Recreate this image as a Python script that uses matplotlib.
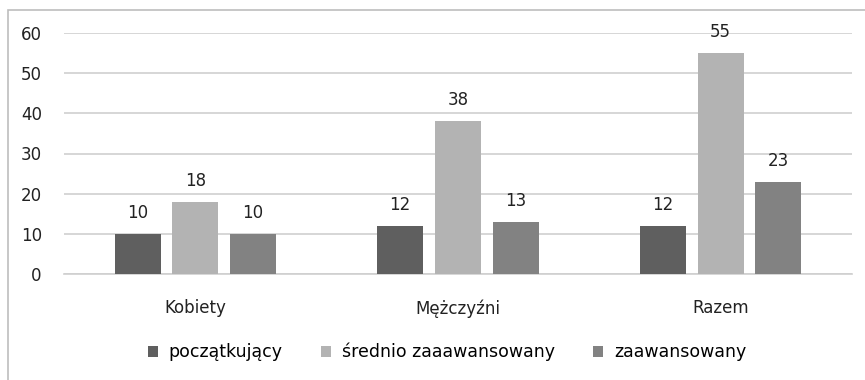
import matplotlib.pyplot as plt
import numpy as np
from matplotlib.patches import Rectangle

plt.rcParams['font.family'] = ['DejaVu Sans']

# Data
categories = ['Kobiety', 'Mężczyźni', 'Razem']
series_names = ['początkujący', 'średnio zaaawansowany', 'zaawansowany']
poczatkujacy = [10, 12, 12]
srednio = [18, 38, 55]
zaawansowany = [10, 13, 23]
colors = ['#5f5f5f', '#b3b3b3', '#828282']

fig = plt.figure(figsize=(8.65, 3.8), dpi=100)
# outer chart border
fig.patches.append(Rectangle((8 / 865, -0.1), 1.2, 1 - 10 / 380 + 0.1,
                             transform=fig.transFigure, fill=False,
                             edgecolor='#bdbdbd', linewidth=1.2))

ax = fig.add_axes([64 / 865, 1 - 274 / 380, (852 - 64) / 865, (274 - 33) / 380])

x = np.arange(len(categories))
w = 0.175
step = 0.22
for i, (vals, name) in enumerate(zip([poczatkujacy, srednio, zaawansowany], series_names)):
    bars = ax.bar(x + (i - 1) * step, vals, width=w, color=colors[i], label=name, zorder=3)
    for b, v in zip(bars, vals):
        ax.text(b.get_x() + b.get_width() / 2, v + 3, str(v), ha='center', va='bottom',
                fontsize=12, color='#222222')

ax.set_xlim(-0.5, 2.5)
ax.set_ylim(0, 60)
ax.set_yticks(range(0, 61, 10))
ax.set_xticks(x)
ax.set_xticklabels(categories)
ax.yaxis.grid(True, color='#cfcfcf', linewidth=1.2, zorder=0)
ax.tick_params(axis='both', length=0, labelsize=12, colors='#222222')
ax.tick_params(axis='y', pad=16)
ax.tick_params(axis='x', pad=18)
for s in ['top', 'right', 'left']:
    ax.spines[s].set_visible(False)
ax.spines['bottom'].set_color('#cfcfcf')
ax.spines['bottom'].set_linewidth(1.2)

fig.legend(loc='center', bbox_to_anchor=(447 / 865, 1 - 352 / 380), ncol=3, frameon=False,
           fontsize=12.5, handlelength=0.6, handleheight=0.6, handletextpad=0.6, columnspacing=2.2)

fig.savefig('out.png', dpi=100)
